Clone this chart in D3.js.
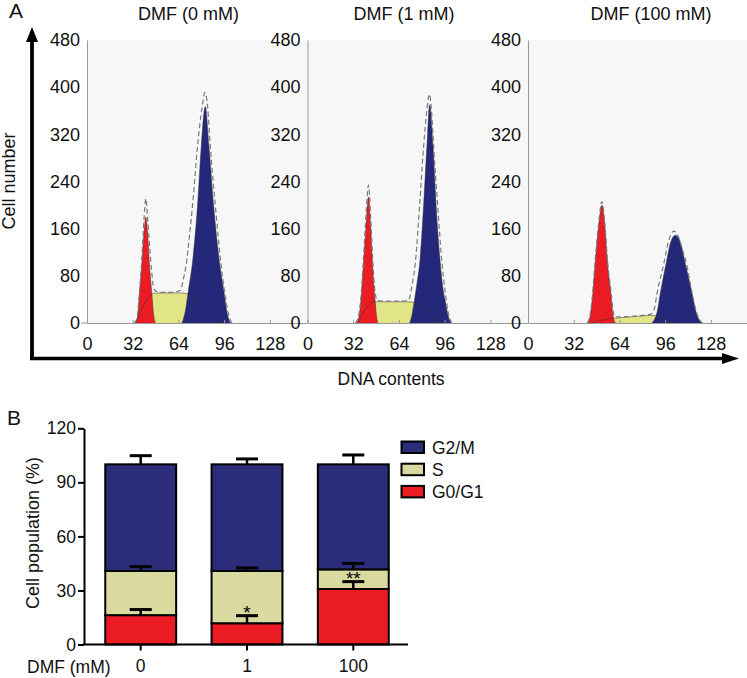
<!DOCTYPE html>
<html><head><meta charset="utf-8">
<script src="https://cdn.jsdelivr.net/npm/d3@7"></script>
<style>
body{margin:0;background:#fff;}
text{font-family:"Liberation Sans",Arial,Helvetica,sans-serif;}
</style></head><body>
<svg id="c" width="747" height="678"></svg>
<script>
// ---------- Panel A data ----------
const panelTitles = ["DMF (0 mM)", "DMF (1 mM)", "DMF (100 mM)"];
const dnaTicks = [0, 32, 64, 96, 128];
const cellTicks = [0, 80, 160, 240, 320, 400, 480];
// [DNA content, cell number]
const g1Curves = [
  [[34,0],[35.5,12],[36.7,50],[38.4,100],[39.8,150],[41.2,180],[42.5,150],[43.7,100],[45.4,50],[46.6,15],[47.8,0]],
  [[34.5,0],[36,10],[37.3,36],[39.2,100],[41,165],[42.7,214],[44.2,165],[45.5,100],[47.4,36],[48.3,12],[49.2,0]],
  [[42,0],[43.5,12],[45.4,50],[47,100],[49.5,165],[51.7,200],[53.8,165],[55.7,100],[58,50],[59.6,12],[61.2,0]]
];
const sCurves = [
  [[34,0],[36,10],[38,22],[40,32],[42,40],[44,46],[46,50],[50,51],[60,51],[66,51],[70,50],[72,48],[76,40],[81.6,28],[86,16],[90,7],[93,2],[96,0]],
  [[35,0],[37,8],[39,17],[41,25],[43,31],[45,34],[47.5,36],[60,36],[70,36],[74,35],[78,31],[82,24],[86,16],[90,8],[93,3],[96,0]],
  [[44,0],[48,2],[52,5],[56,7],[60,8],[70,10],[80,12],[87,13],[90,11.5],[94,7],[97,3.5],[100,1],[103,0]]
];
const g2mCurves = [
  [[66.5,0],[69,22],[71,56],[73.7,100],[77.4,200],[80,300],[82.8,367],[85.4,300],[88.6,200],[92.9,100],[95.7,56],[98,18],[100.5,0]],
  [[71.5,0],[73,12],[74.7,36],[76.8,70],[78.5,100],[81.3,200],[83.6,300],[85.5,370],[87.9,300],[90,200],[93,100],[95,55],[96.5,36],[98.5,12],[100.5,0]],
  [[86.5,0],[88.5,6],[90.5,20],[92.6,50],[96.6,100],[100,138],[103.2,149],[106.5,138],[110.2,100],[114.9,50],[117.5,20],[119.7,6],[122,0]]
];
const totalCurves = [
  [[33,0],[35,8],[36.7,52],[38.4,110],[40,180],[41.2,211],[42.5,175],[44,125],[45.2,90],[46.5,62],[48,54],[52,52],[60,52],[65.3,55],[67.5,75],[69.5,100],[71.8,150],[73.9,200],[77.4,300],[80.5,365],[82.6,391],[84.5,365],[86.3,300],[89.8,200],[93.8,100],[96.5,50],[99,15],[101.5,0]],
  [[33.5,0],[35.5,10],[37.3,40],[39.2,110],[41,185],[42.7,234],[44.2,180],[45.5,115],[47,60],[48.8,38],[55,37],[65,37],[70.8,39],[73,62],[75.4,100],[78.5,200],[81.3,300],[83.5,360],[85.3,388],[86.8,360],[88.3,300],[91.1,200],[94.2,100],[96.5,50],[98.5,18],[101,0]],
  [[41.5,0],[43.5,14],[45.4,55],[47,105],[49.5,170],[51.7,206],[53.8,168],[55.7,104],[58,55],[59.6,20],[61.2,10],[70,11],[80,13],[86,15],[88.5,25],[90.3,50],[95,100],[98.5,140],[102,156],[105.5,145],[108,125],[111,100],[114.9,50],[117.5,22],[119.7,7],[122,0]]
];

// ---------- Panel B data ----------
const doses = ["0", "1", "100"];
const g0g1 = [16.3, 11.8, 30.8];
const sPhase = [24.5, 29.0, 10.9];
const g2m = [59.2, 59.2, 58.3];
const g0g1Err = [3.1, 4.2, 4.1];
const sErr = [2.4, 1.7, 3.3];
const g2mErr = [4.8, 3.0, 5.2];
const sigMarks = ["", "*", "**"];
const popTicks = [0, 30, 60, 90, 120];
const legendNames = ["G2/M", "S", "G0/G1"];

// ---------- drawing ----------
const svg = d3.select("#c");
const FS = 18, FSB = 17.5;

const colA = {g1:"#ec1c24", s:"#e1e587", g2m:"#23287a"};
const panelLefts = [87, 307.5, 528];
const yA = d3.scaleLinear().domain([0, 480]).range([323, 40]);

svg.append("rect").attr("x", 87).attr("y", yA(480)).attr("width", 747 - 87)
  .attr("height", yA(0) - yA(480)).attr("fill", "#f7f7f7");

svg.append("line").attr("x1", 81).attr("x2", 87).attr("y1", yA(0)).attr("y2", yA(0))
  .attr("stroke", "#999").attr("stroke-width", 1);

const titleX = [188.5, 404, 651];

panelLefts.forEach((L, i) => {
  const x = d3.scaleLinear().domain([0, 154]).range([L, L + 220]);
  const g = svg.append("g");
  const area = d3.area().x(d => x(d[0])).y0(yA(0)).y1(d => yA(d[1])).curve(d3.curveMonotoneX);
  const line = d3.line().x(d => x(d[0])).y(d => yA(d[1])).curve(d3.curveMonotoneX);

  g.append("path").attr("d", area(sCurves[i])).attr("fill", colA.s);
  g.append("path").attr("d", area(g1Curves[i])).attr("fill", colA.g1);
  g.append("path").attr("d", area(g2mCurves[i])).attr("fill", colA.g2m);
  [g1Curves[i], g2mCurves[i], sCurves[i]].forEach(c => {
    g.append("path").attr("d", line(c)).attr("fill", "none")
      .attr("stroke", "#3a2a2a").attr("stroke-opacity", 0.55).attr("stroke-width", 0.9);
  });
  g.append("path").attr("d", line(totalCurves[i])).attr("fill", "none")
    .attr("stroke", "#7a7a7a").attr("stroke-width", 1.2).attr("stroke-dasharray", "5,3");

  const ax = svg.append("g").attr("transform", `translate(0,${yA(0)})`)
    .call(d3.axisBottom(x).tickValues(dnaTicks).tickSizeInner(-3).tickSizeOuter(0).tickPadding(14));
  ax.attr("font-size", FS);
  ax.select(".domain").attr("stroke", "#999");
  ax.selectAll(".tick line").attr("stroke", "#999");
  ax.selectAll("text").attr("fill", "#111");

  const ay = svg.append("g").attr("transform", `translate(${L},0)`)
    .call(d3.axisLeft(yA).tickValues(cellTicks).tickSizeInner(0).tickSizeOuter(0).tickPadding(7));
  ay.attr("font-size", FS);
  ay.select(".domain").attr("stroke", "#999");
  ay.selectAll("text").attr("fill", "#111");

  svg.append("text").attr("x", titleX[i]).attr("y", 19.5).attr("text-anchor", "middle")
    .attr("font-size", FS).attr("fill", "#111").text(panelTitles[i]);
});

// big arrows
svg.append("line").attr("x1", 32).attr("x2", 32).attr("y1", 360).attr("y2", 38)
  .attr("stroke", "#000").attr("stroke-width", 3.8);
svg.append("path").attr("d", "M32,27 L26,42 L38,42 Z").attr("fill", "#000");
svg.append("line").attr("x1", 30).attr("x2", 726).attr("y1", 358.5).attr("y2", 358.5)
  .attr("stroke", "#000").attr("stroke-width", 3.6);
svg.append("path").attr("d", "M739,358.5 L722,353 L722,364 Z").attr("fill", "#000");

svg.append("text").attr("x", 9).attr("y", 18).attr("font-size", 21).attr("fill", "#111").text("A");
svg.append("text").attr("transform", "translate(14.5,181) rotate(-90)").attr("text-anchor", "middle")
  .attr("font-size", FS).attr("fill", "#111").text("Cell number");
svg.append("text").attr("x", 391).attr("y", 385).attr("text-anchor", "middle")
  .attr("font-size", 17.5).attr("fill", "#111").text("DNA contents");

// ---------- Panel B ----------
const colB = {g0g1:"#ec1c24", s:"#d9d9a0", g2m:"#2b2d7b"};
const yB = d3.scaleLinear().domain([0, 120]).range([644.5, 428.3]);
const xB = d3.scaleBand().domain(doses).range([84, 410]).paddingInner(0.333).paddingOuter(0.2);

const rows = doses.map((d, i) => ({dose: d, g0g1: g0g1[i], s: sPhase[i], g2m: g2m[i]}));
const keys = ["g0g1", "s", "g2m"];
const errs = {g0g1: g0g1Err, s: sErr, g2m: g2mErr};
const stacked = d3.stack().keys(keys)(rows);

const gb = svg.append("g");
stacked.forEach(layer => {
  gb.selectAll(null).data(layer).enter().append("rect")
    .attr("x", d => xB(d.data.dose))
    .attr("width", xB.bandwidth())
    .attr("y", d => yB(d[1]))
    .attr("height", d => yB(d[0]) - yB(d[1]))
    .attr("fill", colB[layer.key])
    .attr("stroke", "#000").attr("stroke-width", 2);
});
stacked.forEach(layer => {
  layer.forEach((d, i) => {
    const cx = xB(d.data.dose) + xB.bandwidth() / 2;
    const top = d[1], e = errs[layer.key][i];
    gb.append("line").attr("x1", cx).attr("x2", cx).attr("y1", yB(top)).attr("y2", yB(top + e))
      .attr("stroke", "#000").attr("stroke-width", 2.5);
    gb.append("line").attr("x1", cx - 11).attr("x2", cx + 11).attr("y1", yB(top + e)).attr("y2", yB(top + e))
      .attr("stroke", "#000").attr("stroke-width", 3);
  });
});
doses.forEach((d, i) => {
  if (!sigMarks[i]) return;
  gb.append("text").attr("x", xB(d) + xB.bandwidth() / 2).attr("y", yB(g0g1[i] + g0g1Err[i]) + 3)
    .attr("text-anchor", "middle").attr("font-size", 19).attr("fill", "#000").text(sigMarks[i]);
});

const ayB = svg.append("g").attr("transform", "translate(84,0)")
  .call(d3.axisLeft(yB).tickValues(popTicks).tickSizeInner(6).tickSizeOuter(0).tickPadding(2));
ayB.attr("font-size", FSB);
ayB.select(".domain").attr("stroke", "#000").attr("stroke-width", 2);
ayB.selectAll(".tick line").attr("stroke", "#000").attr("stroke-width", 2);
ayB.selectAll("text").attr("fill", "#111");

const axB = svg.append("g").attr("transform", `translate(0,${yB(0)})`)
  .call(d3.axisBottom(xB).tickSizeInner(6).tickSizeOuter(0).tickPadding(9));
axB.attr("font-size", FSB);
axB.select(".domain").attr("stroke", "#000").attr("stroke-width", 2).attr("d", "M83,0H408");
axB.selectAll(".tick line").attr("stroke", "#000").attr("stroke-width", 2);
axB.selectAll("text").attr("fill", "#111");

svg.append("text").attr("x", 27).attr("y", 673).attr("font-size", FSB).attr("fill", "#111").text("DMF (mM)");
svg.append("text").attr("transform", "translate(38.5,533) rotate(-90)").attr("text-anchor", "middle")
  .attr("font-size", 18).attr("fill", "#111").text("Cell population (%)");
svg.append("text").attr("x", 7).attr("y", 425).attr("font-size", 21).attr("fill", "#111").text("B");

const legCols = [colB.g2m, colB.s, colB.g0g1];
legendNames.forEach((n, i) => {
  const ly = 441.5 + i * 22.2;
  svg.append("rect").attr("x", 401.5).attr("y", ly).attr("width", 22.5).attr("height", 11.5)
    .attr("fill", legCols[i]).attr("stroke", "#000").attr("stroke-width", 2);
  svg.append("text").attr("x", 432).attr("y", ly + 12).attr("font-size", FSB).attr("fill", "#111").text(n);
});
</script>
</body></html>
